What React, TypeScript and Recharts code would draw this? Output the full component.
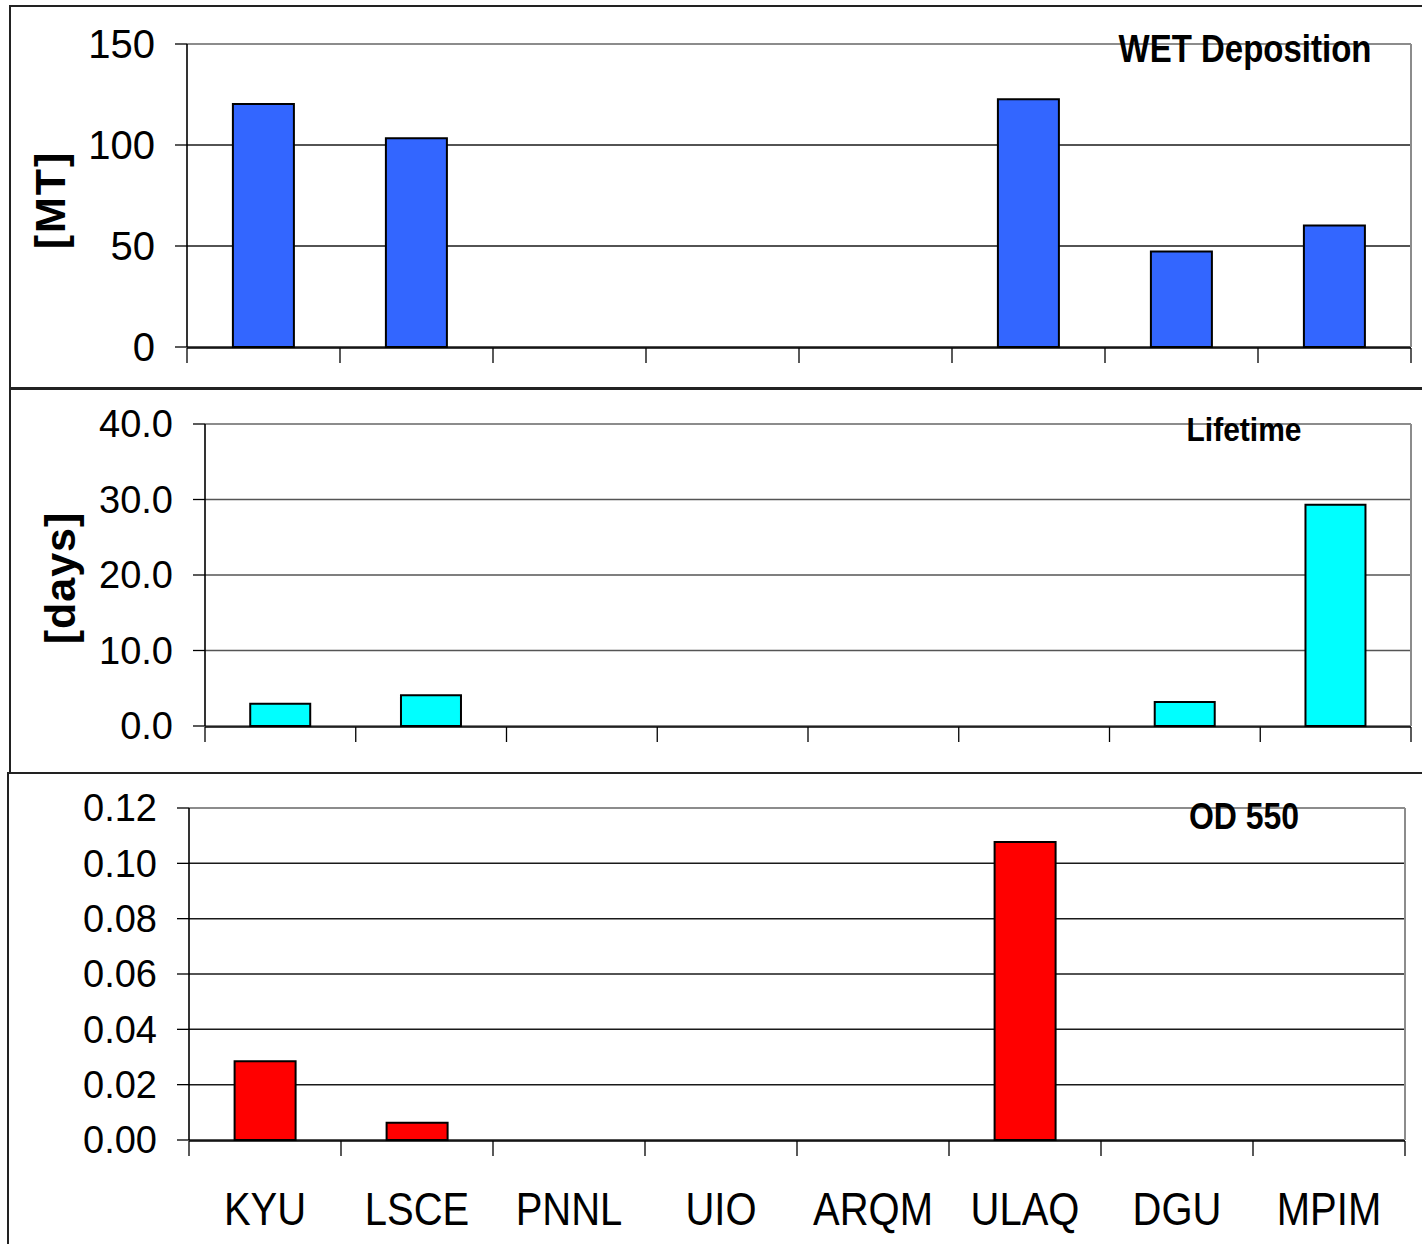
import React from "react";
import { BarChart, Bar, XAxis, YAxis, CartesianGrid, ReferenceLine } from "recharts";

const categories = ["KYU", "LSCE", "PNNL", "UIO", "ARQM", "ULAQ", "DGU", "MPIM"];
const wetDeposition = [120.3, 103.4, null, null, null, 122.6, 47.3, 60.1];
const lifetime = [2.95, 4.07, null, null, null, null, 3.18, 29.3];
const od550 = [0.0285, 0.0062, null, null, null, 0.1077, null, null];

const wetTicks = [0, 50, 100, 150];
const lifeTicks = [0, 10, 20, 30, 40];
const odTicks = [0, 0.02, 0.04, 0.06, 0.08, 0.1, 0.12];
const edgeTicks = [0, 1, 2, 3, 4, 5, 6, 7, 8];

const FONT = "'Liberation Sans', Arial, sans-serif";

const build = (vals: (number | null)[]) =>
  categories.map((c, i) => ({ name: c, pos: i + 0.5, v: vals[i] }));
const wetData = build(wetDeposition);
const lifeData = build(lifetime);
const odData = build(od550);

function CatTick(props: any) {
  const { x, y, payload } = props;
  return (
    <text
      transform={`translate(${x},${y + 85}) scale(1,1.15)`}
      x={0}
      y={0}
      textAnchor="middle"
      fontSize={40}
      fontFamily={FONT}
      fill="#000"
    >
      {payload.value}
    </text>
  );
}

function EmptyTick() {
  return <g />;
}

type PanelProps = {
  data: any[];
  top: number;
  height: number;
  marginTop: number;
  marginBottom: number;
  marginRight: number;
  yWidth: number;
  domainMax: number;
  ticks: number[];
  fmt: (v: number) => string;
  fill: string;
  tickFont: number;
  gridColor: string;
  showLabels?: boolean;
};

function Panel(p: PanelProps) {
  return (
    <div style={{ position: "absolute", left: 0, top: p.top }}>
      <BarChart
        width={1422}
        height={p.height}
        data={p.data}
        margin={{ top: p.marginTop, right: p.marginRight, left: 0, bottom: p.marginBottom }}
        barCategoryGap="30%"
      >
        <CartesianGrid vertical={false} stroke={p.gridColor} strokeWidth={1.5} xAxisId="edges" />
        <XAxis
          xAxisId="edges"
          type="number"
          dataKey="pos"
          domain={[0, 8]}
          ticks={edgeTicks}
          allowDataOverflow
          tick={<EmptyTick />}
          tickSize={15}
          height={16}
          interval={0}
          tickLine={{ stroke: "#000", strokeWidth: 1.3 }}
          axisLine={{ stroke: "#000", strokeWidth: 1.6 }}
        />
        <XAxis
          xAxisId="cat"
          dataKey="name"
          type="category"
          hide={!p.showLabels}
          height={1}
          tickLine={false}
          axisLine={false}
          tickSize={0}
          tickMargin={0}
          interval={0}
          tick={<CatTick />}
        />
        <YAxis
          width={p.yWidth}
          domain={[0, p.domainMax]}
          ticks={p.ticks}
          tickFormatter={p.fmt}
          tickSize={12}
          tickMargin={20}
          interval={0}
          tick={{ fontSize: p.tickFont, fontFamily: FONT, fill: "#000" }}
          tickLine={{ stroke: "#000", strokeWidth: 1.3 }}
          axisLine={{ stroke: "#000", strokeWidth: 1.6 }}
        />
        <ReferenceLine y={p.domainMax} stroke="#8c8c8c" strokeWidth={2} xAxisId="edges" />
        <ReferenceLine x={8} stroke="#8c8c8c" strokeWidth={2} xAxisId="edges" ifOverflow="extendDomain" />
        <Bar
          dataKey="v"
          xAxisId="cat"
          fill={p.fill}
          stroke="#000"
          strokeWidth={2}
          isAnimationActive={false}
        />
      </BarChart>
    </div>
  );
}

export default function App() {
  return (
    <div
      style={{
        position: "absolute",
        left: 0,
        top: 0,
        width: 1422,
        height: 1244,
        overflow: "hidden",
        background: "#fff",
        fontFamily: FONT,
      }}
    >
      <div style={{ position: "absolute", left: 9, top: 5, width: 1430, height: 384, border: "2px solid #222", boxSizing: "border-box" }} />
      <div style={{ position: "absolute", left: 9, top: 388, width: 1430, height: 386, border: "2px solid #222", boxSizing: "border-box" }} />
      <div style={{ position: "absolute", left: 7, top: 772, width: 1430, height: 500, border: "2px solid #222", boxSizing: "border-box" }} />

      <Panel
        data={wetData}
        top={0}
        height={390}
        marginTop={44}
        marginBottom={27}
        marginRight={11}
        yWidth={187}
        domainMax={150}
        ticks={wetTicks}
        fmt={(v) => String(v)}
        fill="#3366FF"
        tickFont={40}
        gridColor="#1a1a1a"
      />
      <Panel
        data={lifeData}
        top={390}
        height={383}
        marginTop={34}
        marginBottom={31}
        marginRight={11}
        yWidth={205}
        domainMax={40}
        ticks={lifeTicks}
        fmt={(v) => v.toFixed(1)}
        fill="#00FFFF"
        tickFont={38}
        gridColor="#555"
      />
      <Panel
        data={odData}
        top={773}
        height={471}
        marginTop={35}
        marginBottom={87}
        marginRight={17}
        yWidth={189}
        domainMax={0.12}
        ticks={odTicks}
        fmt={(v) => v.toFixed(2)}
        fill="#FF0000"
        tickFont={38}
        gridColor="#1a1a1a"
        showLabels
      />

      <svg
        width={1422}
        height={1244}
        style={{ position: "absolute", left: 0, top: 0, pointerEvents: "none" }}
        fontFamily={FONT}
      >
        <text transform="translate(1245,62) scale(1,1.18)" textAnchor="middle" fontSize={33} fontWeight="bold" fill="#000">
          WET Deposition
        </text>
        <text transform="translate(1244,441) scale(1,1.12)" textAnchor="middle" fontSize={30} fontWeight="bold" fill="#000">
          Lifetime
        </text>
        <text transform="translate(1244,829) scale(1,1.17)" textAnchor="middle" fontSize={32} fontWeight="bold" fill="#000">
          OD 550
        </text>
        <text transform="translate(65,200) rotate(-90)" textAnchor="middle" fontSize={43} fontWeight="bold" fill="#000" letterSpacing={2}>
          [MT]
        </text>
        <text transform="translate(75,578) rotate(-90)" textAnchor="middle" fontSize={43} fontWeight="bold" fill="#000" letterSpacing={1}>
          [days]
        </text>
      </svg>
    </div>
  );
}
